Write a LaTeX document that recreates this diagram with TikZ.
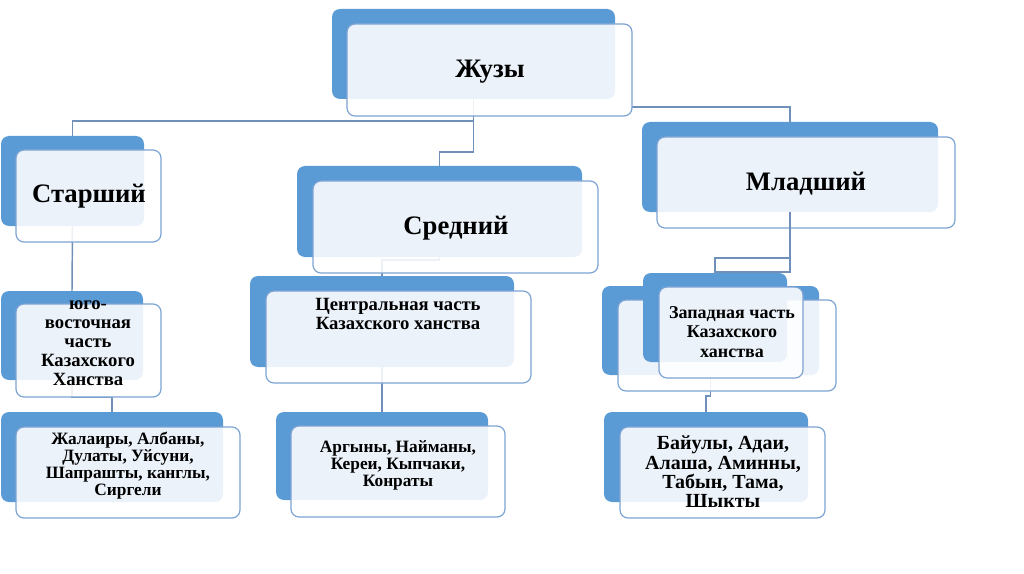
\documentclass[tikz,border=0pt]{standalone}
\usepackage{fontspec}
\setmainfont{Liberation Serif}
\definecolor{boxblue}{RGB}{91,155,213}
\definecolor{edgeblue}{RGB}{125,163,212}
\definecolor{linkblue}{RGB}{112,144,186}
\tikzset{
  backbox/.style={fill=boxblue, draw=none, rounded corners=6pt, inner sep=0pt, outer sep=0pt},
  frontbox/.style={fill=white, fill opacity=0.88, draw=edgeblue, line width=0.9pt, rounded corners=6pt, inner sep=0pt, outer sep=0pt},
  conn/.style={draw=linkblue, line width=1.1pt},
  bigtext/.style={font=\fontsize{20}{24}\selectfont\bfseries, inner sep=0pt},
  midtext/.style={font=\fontsize{14}{14.3}\selectfont\bfseries, align=center, inner sep=0pt},
  smalltext/.style={font=\fontsize{13}{12.8}\selectfont\bfseries, align=center, inner sep=0pt},
}
\newcommand\pbox[6]{\node[#1, anchor=north west, minimum width={(#5-#3)*0.75pt}, minimum height={(#6-#4)*0.75pt}] (#2) at (#3,#4) {};}
\begin{document}
\begin{tikzpicture}[x=0.75pt,y=-0.75pt]
\useasboundingbox (0,0) rectangle (1024,574);
% ---- back boxes ----
\pbox{backbox}{zb}{332}{9}{615}{99}
\pbox{backbox}{stb}{1}{136}{144}{226}
\pbox{backbox}{srb}{297}{166}{582}{257}
\pbox{backbox}{mlb}{642}{122}{938}{212}
\pbox{backbox}{yub}{1}{291}{143}{380}
\pbox{backbox}{czb}{250}{276}{514}{367}
\pbox{backbox}{zbb}{602}{286}{819}{375}
\pbox{backbox}{zhb}{1}{412}{223}{502}
\pbox{backbox}{agb}{276}{412}{488}{500}
\pbox{backbox}{bab}{604}{412}{808}{502}
% ---- connectors ----
\draw[conn] (zb.south) -- (zb.south |- 0,121) -| (stb.north);
\draw[conn] (zb.south) -- (zb.south |- 0,152) -| (srb.north);
\coordinate (zr) at (632,107);
\draw[conn] (zr) -| (mlb.north);
\draw[conn] (stb.south) -- (yub.north);
\draw[conn] (yub.south) -- (yub.south |- 0,397) -| (zhb.north);
\draw[conn] (srb.south) -- (srb.south |- 0,260) -| (czb.north);
\draw[conn] (czb.south) -- (agb.north);
\draw[conn] (zbb.south) -- (zbb.south |- 0,396) -| (bab.north);
% ---- front boxes ----
\pbox{frontbox}{zf}{347}{24}{632}{116}
\pbox{frontbox}{stf}{16}{150}{161}{242}
\pbox{frontbox}{srf}{313}{181}{598}{273}
\pbox{frontbox}{mlf}{657}{137}{955}{228}
\pbox{frontbox}{yuf}{16}{304}{161}{397}
\pbox{frontbox}{czf}{266}{291}{531}{383}
\pbox{frontbox}{zbf}{618}{300}{836}{391}
\pbox{backbox}{zpb}{643}{273}{787}{362}
\pbox{frontbox}{zpf}{659}{287}{803}{378}
\pbox{frontbox}{zhf}{16}{427}{240}{518}
\pbox{frontbox}{agf}{291}{426}{505}{517}
\pbox{frontbox}{baf}{620}{427}{825}{518}
% ---- connectors from Младший to Западная ----
\draw[conn] (mlb.south) -- (mlb.south |- 0,272) -| (zpb.north);
\draw[conn] (mlb.south) -- (mlb.south |- 0,258) -| (zpb.north);
% ---- texts ----
\node[bigtext] (tz) at (490,72) {Жузы};
\node[bigtext] (tst) at (89,196) {Старший};
\node[bigtext] (tsr) at (456,228) {Средний};
\node[bigtext] (tml) at (806,184) {Младший};
\node[midtext] (tyu) at (88,343) {юго-\\восточная\\часть\\Казахского\\Ханства};
\node[midtext] (tcz) at (398,314) {Центральная часть\\Казахского ханства};
\node[midtext, font=\fontsize{13.5}{14.5}\selectfont\bfseries] (tzp) at (732,332) {Западная часть\\Казахского\\ханства};
\node[smalltext] (tzh) at (128,466) {Жалаиры, Албаны,\\Дулаты, Уйсуни,\\Шапрашты, канглы,\\Сиргели};
\node[smalltext] (tag) at (398,465) {Аргыны, Найманы,\\Кереи, Кыпчаки,\\Конраты};
\node[smalltext, font=\fontsize{15}{14.5}\selectfont\bfseries] (tba) at (723,472) {Байулы, Адаи,\\Алаша, Аминны,\\Табын, Тама,\\Шыкты};
\end{tikzpicture}
\end{document}
